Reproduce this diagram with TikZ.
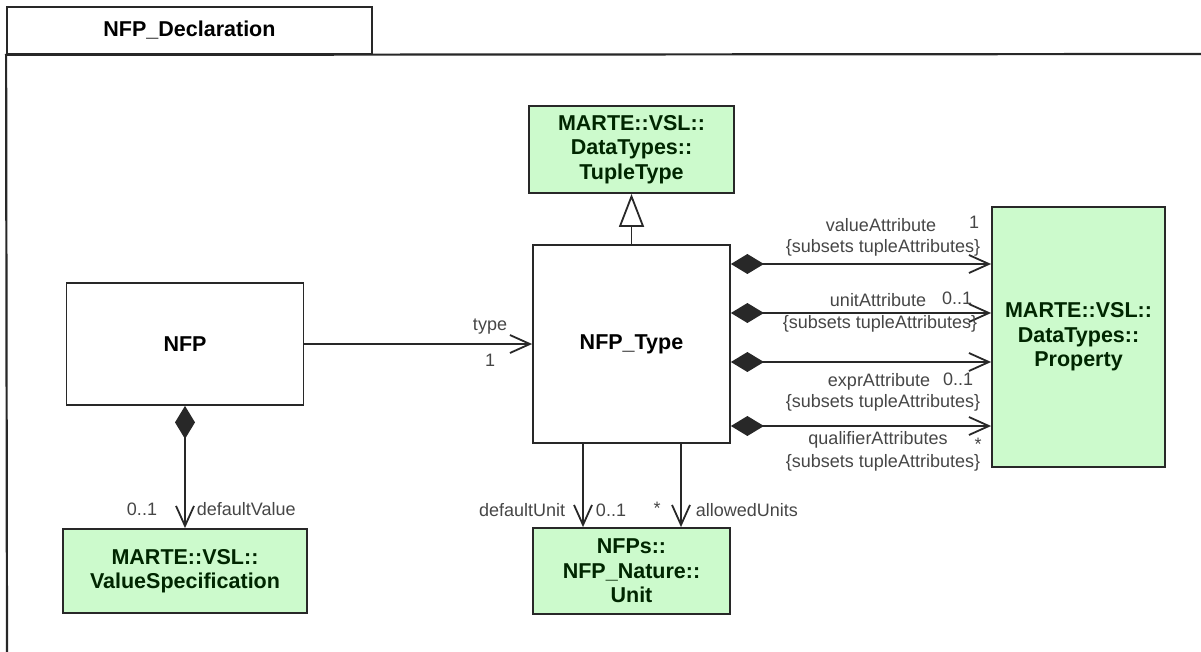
\documentclass[tikz,border=0pt]{standalone}
\usepackage{fontspec}
\setmainfont{Liberation Sans}
\usepackage{tikz}
\usetikzlibrary{arrows.meta}
\usetikzlibrary{positioning}
\definecolor{classgreen}{RGB}{204,250,204}
\definecolor{linegray}{RGB}{40,40,40}
\definecolor{labelgray}{RGB}{70,70,70}
\tikzstyle{cls}=[rectangle,draw=linegray,fill=white,line width=1.8pt,inner sep=0pt,align=center,font=\fontsize{21.5}{24.5}\selectfont\bfseries]
\tikzstyle{ext}=[cls,fill=classgreen,text=black!85!green]
\tikzstyle{lbl}=[inner sep=0pt,text=labelgray,font=\fontsize{18}{20}\selectfont]
\tikzstyle{nav}=[-{Straight Barb[length=20pt,width=18pt]}]
\tikzstyle{comp}=[{Diamond[length=33pt,width=20pt]}-{Straight Barb[length=20pt,width=18pt]}]
\tikzstyle{gen}=[-{Triangle[open,length=33pt,width=25pt,fill=white]}]
\tikzset{every picture/.style={
    line width=1.8pt
  }
}

\begin{document}
\begin{tikzpicture}[x=1pt,y=-1pt,draw=linegray]
        \useasboundingbox (0,0) rectangle (1201,652);
        % package frame and tab
        \node[cls,minimum width=365pt,minimum height=47pt] at (189.5,30.5) (decl) {NFP\_Declaration};
        \draw[line width=2.2pt] (7,652) -- (decl.south west) -- (1201,54);
        % classes
        \node[ext,minimum width=205pt,minimum height=87pt] at (631.5,149.5) (tuple) {MARTE::VSL::\\DataTypes::\\TupleType};
        \node[cls,minimum width=197pt,minimum height=198pt] at (631.5,344) (nfptype) {NFP\_Type};
        \node[cls,minimum width=237pt,minimum height=122pt] at (185,344) (nfp) {NFP};
        \node[ext,minimum width=244pt,minimum height=84pt] at (185,571) (vspec) {MARTE::VSL::\\ValueSpecification};
        \node[ext,minimum width=197pt,minimum height=86pt] at (631.5,571) (unit) {NFPs::\\NFP\_Nature::\\Unit};
        \node[ext,minimum width=173pt,minimum height=260pt] at (1078.5,337) (prop) {MARTE::VSL::\\DataTypes::\\Property};
        % connectors
        \draw[gen] (nfptype) -- (tuple);
        \draw[nav] (nfp) -- (nfptype);
        \draw[comp] (nfp) -- (vspec);
        \draw[nav] ([xshift=-48.5pt]nfptype.south) -- ([xshift=-48.5pt]unit.north);
        \draw[nav] ([xshift=49.5pt]nfptype.south) -- ([xshift=49.5pt]unit.north);
        \draw[comp] ([yshift=80pt]nfptype.east) -- ([yshift=80pt]nfptype.east -| prop.west);
        \draw[comp] ([yshift=31pt]nfptype.east) -- ([yshift=31pt]nfptype.east -| prop.west);
        \draw[comp] ([yshift=-18pt]nfptype.east) -- ([yshift=-18pt]nfptype.east -| prop.west);
        \draw[comp] ([yshift=-82pt]nfptype.east) -- ([yshift=-82pt]nfptype.east -| prop.west);
        % role names and multiplicities
        \node[lbl] at (490,327) (ltype) {type};
        \node[lbl] at (490,360) (mtype) {1};
        \node[lbl] at (142,509) (mdefval) {0..1};
        \node[lbl,anchor=west] at (196,509) (ldefval) {defaultValue};
        \node[lbl,anchor=east] at (566,510) (ldefunit) {defaultUnit};
        \node[lbl] at (611,510) (mdefunit) {0..1};
        \node[lbl] at (657,508) (mallowed) {*};
        \node[lbl,anchor=west] at (695,510) (lallowed) {allowedUnits};
        \node[lbl] at (881,225) (lvalue) {valueAttribute};
        \node[lbl] at (974,222) (mvalue) {1};
        \node[lbl] at (883,248) (svalue) {\{subsets tupleAttributes\}};
        \node[lbl] at (878,300) (lunit) {unitAttribute};
        \node[lbl] at (957,298) (munit) {0..1};
        \node[lbl] at (880,324) (sunit) {\{subsets tupleAttributes\}};
        \node[lbl] at (879,382) (lexpr) {exprAttribute};
        \node[lbl] at (958,379) (mexpr) {0..1};
        \node[lbl] at (883,403) (sexpr) {\{subsets tupleAttributes\}};
        \node[lbl] at (878,440) (lqual) {qualifierAttributes};
        \node[lbl] at (978,444) (mqual) {*};
        \node[lbl] at (883,463) (squal) {\{subsets tupleAttributes\}};
      \end{tikzpicture}
\end{document}
